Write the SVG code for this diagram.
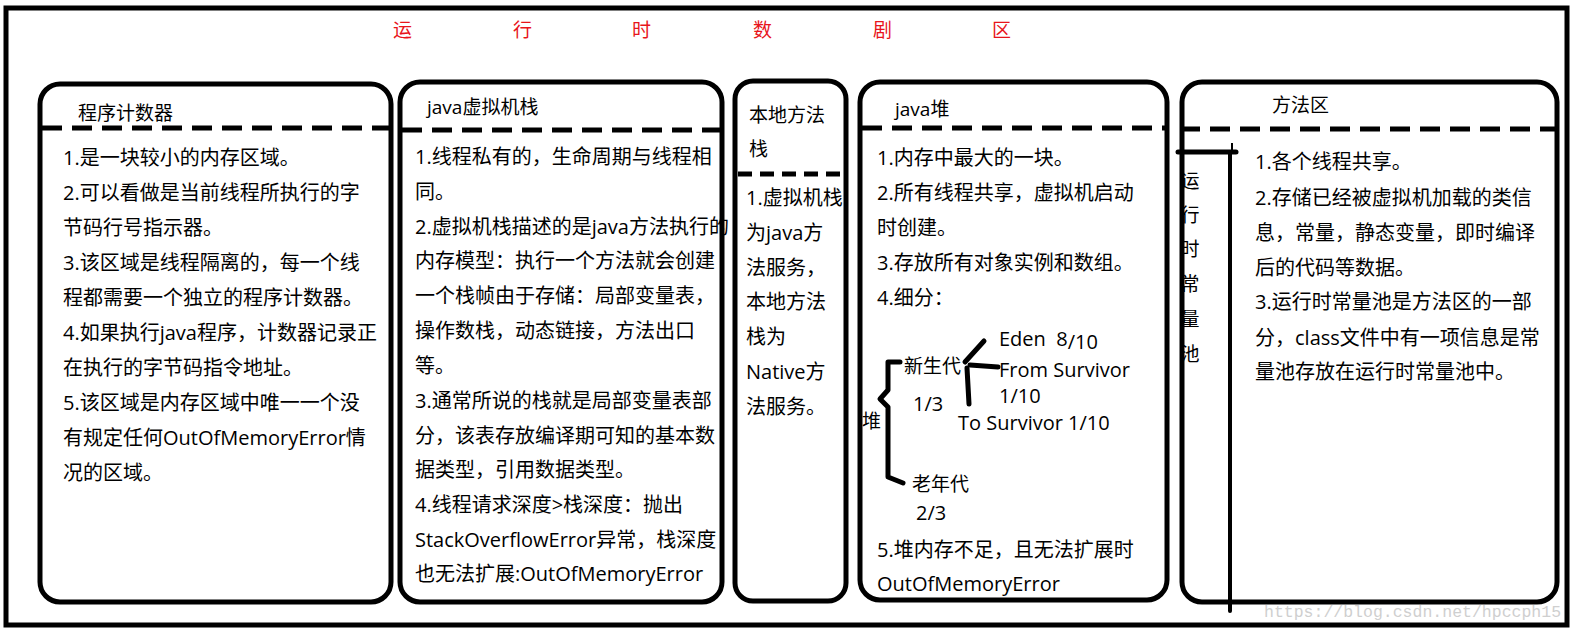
<svg xmlns="http://www.w3.org/2000/svg" width="1576" height="633" viewBox="0 0 1576 633">
<style>
.box{fill:#fff;stroke:#000;stroke-width:5}
.dash{stroke:#000;stroke-width:5;stroke-dasharray:20 10;fill:none}
.dash2{stroke:#000;stroke-width:5;stroke-dasharray:14 8;fill:none}
.ln{stroke:#000;stroke-width:5;fill:none;stroke-linecap:round;stroke-linejoin:round}
text{font-family:"Open Sans","Noto Sans CJK SC",sans-serif;fill:#000}
.t{font-size:20px}
.h{font-size:19px}
.title{font-size:19px;fill:#e8141b}
.big{font-size:20px}
.wm{font-family:"Liberation Mono",monospace;font-size:16.5px;fill:#cfcfcf}
</style>
<rect x="0" y="0" width="1576" height="633" fill="#fff"/>
<rect x="6" y="8" width="1561" height="617" fill="none" stroke="#000" stroke-width="5"/>
<g id="title">
<text class="title" x="393" y="37">运</text>
<text class="title" x="513" y="37">行</text>
<text class="title" x="632" y="37">时</text>
<text class="title" x="753" y="37">数</text>
<text class="title" x="873" y="37">剧</text>
<text class="title" x="992" y="37">区</text>
</g>
<g id="pc">
<rect class="box" x="40" y="84" width="351" height="518" rx="20"/>
<text class="h" x="78" y="120">程序计数器</text>
<line class="dash" x1="42" y1="128" x2="392" y2="128"/>
<text class="t" x="63" y="165">1.是一块较小的内存区域。</text>
<text class="t" x="63" y="200">2.可以看做是当前线程所执行的字</text>
<text class="t" x="63" y="235">节码行号指示器。</text>
<text class="t" x="63" y="270">3.该区域是线程隔离的，每一个线</text>
<text class="t" x="63" y="305">程都需要一个独立的程序计数器。</text>
<text class="t" x="63" y="340">4.如果执行java程序，计数器记录正</text>
<text class="t" x="63" y="375">在执行的字节码指令地址。</text>
<text class="t" x="63" y="410">5.该区域是内存区域中唯一一个没</text>
<text class="t" x="63" y="445">有规定任何OutOfMemoryError情</text>
<text class="t" x="63" y="480">况的区域。</text>
</g>
<g id="vmstack">
<rect class="box" x="400" y="82" width="322" height="520" rx="20"/>
<text class="h" x="427" y="114">java虚拟机栈</text>
<line class="dash" x1="402" y1="130" x2="722" y2="130"/>
<text class="t" x="415" y="164">1.线程私有的，生命周期与线程相</text>
<text class="t" x="415" y="199">同。</text>
<text class="t" x="415" y="234">2.虚拟机栈描述的是java方法执行的</text>
<text class="t" x="415" y="268">内存模型：执行一个方法就会创建</text>
<text class="t" x="415" y="303">一个栈帧由于存储：局部变量表，</text>
<text class="t" x="415" y="338">操作数栈，动态链接，方法出口</text>
<text class="t" x="415" y="373">等。</text>
<text class="t" x="415" y="408">3.通常所说的栈就是局部变量表部</text>
<text class="t" x="415" y="443">分，该表存放编译期可知的基本数</text>
<text class="t" x="415" y="477">据类型，引用数据类型。</text>
<text class="t" x="415" y="512">4.线程请求深度&gt;栈深度：抛出</text>
<text class="t" x="415" y="547">StackOverflowError异常，栈深度</text>
<text class="t" x="415" y="581">也无法扩展:OutOfMemoryError</text>
</g>
<g id="nativestack">
<rect class="box" x="735" y="81" width="111" height="520" rx="18"/>
<text class="h" x="749" y="122">本地方法</text>
<text class="h" x="749" y="156">栈</text>
<line class="dash2" x1="738" y1="174" x2="846" y2="174"/>
<text class="t" x="746" y="205">1.虚拟机栈</text>
<text class="t" x="746" y="240">为java方</text>
<text class="t" x="746" y="275">法服务，</text>
<text class="t" x="746" y="309">本地方法</text>
<text class="t" x="746" y="344">栈为</text>
<text class="t" x="746" y="379">Native方</text>
<text class="t" x="746" y="414">法服务。</text>
</g>
<g id="heap">
<rect class="box" x="860" y="82" width="307" height="518" rx="20"/>
<text class="h" x="895" y="116">java堆</text>
<line class="dash" x1="862" y1="128" x2="1167" y2="128"/>
<text class="t" x="877" y="165">1.内存中最大的一块。</text>
<text class="t" x="877" y="200">2.所有线程共享，虚拟机启动</text>
<text class="t" x="877" y="235">时创建。</text>
<text class="t" x="877" y="270">3.存放所有对象实例和数组。</text>
<text class="t" x="877" y="305">4.细分：</text>
<text class="big" x="999" y="346">Eden&#160; 8<tspan dy="3">/10</tspan></text>
<text class="h" x="904" y="373">新生代</text>
<text class="big" x="999" y="377">From Survivor</text>
<text class="big" x="999" y="403">1/10</text>
<text class="big" x="913" y="411">1/3</text>
<text class="h" x="862" y="428">堆</text>
<text class="big" x="958" y="430">To Survivor 1/10</text>
<text class="h" x="912" y="491">老年代</text>
<text class="big" x="916" y="520">2/3</text>
<text class="t" x="877" y="557">5.堆内存不足，且无法扩展时</text>
<text class="t" x="877" y="591">OutOfMemoryError</text>
</g>
<g id="method">
<rect class="box" x="1182" y="82" width="375" height="520" rx="20"/>
<text class="h" x="1272" y="112">方法区</text>
<line class="dash" x1="1180" y1="129" x2="1557" y2="129"/>
<text class="h" x="1190" y="188" text-anchor="middle">运</text>
<text class="h" x="1190" y="222" text-anchor="middle">行</text>
<text class="h" x="1190" y="256" text-anchor="middle">时</text>
<text class="h" x="1190" y="291" text-anchor="middle">常</text>
<text class="h" x="1190" y="326" text-anchor="middle">量</text>
<text class="h" x="1190" y="361" text-anchor="middle">池</text>
<text class="t" x="1255" y="169">1.各个线程共享。</text>
<text class="t" x="1255" y="205">2.存储已经被虚拟机加载的类信</text>
<text class="t" x="1255" y="240">息，常量，静态变量，即时编译</text>
<text class="t" x="1255" y="275">后的代码等数据。</text>
<text class="t" x="1255" y="309">3.运行时常量池是方法区的一部</text>
<text class="t" x="1255" y="345">分，class文件中有一项信息是常</text>
<text class="t" x="1255" y="379">量池存放在运行时常量池中。</text>
</g>
<g id="connectors">
<polyline class="ln" points="900,362 888,362 888,390 880,399 888,407 888,477 903,483"/>
<line class="ln" x1="965" y1="362" x2="984" y2="341"/>
<line class="ln" x1="970" y1="365" x2="998" y2="367"/>
<line class="ln" x1="967" y1="368" x2="969" y2="404"/>
<line x1="1232" y1="143" x2="1232" y2="153" stroke="#000" stroke-width="2"/>
<line class="ln" x1="1178" y1="152" x2="1236" y2="152"/>
<line x1="1230" y1="152" x2="1230" y2="611" stroke="#000" stroke-width="4" stroke-linecap="round"/>
</g>
<text class="wm" x="1264" y="617">https://blog.csdn.net/hpccph15</text>
</svg>
